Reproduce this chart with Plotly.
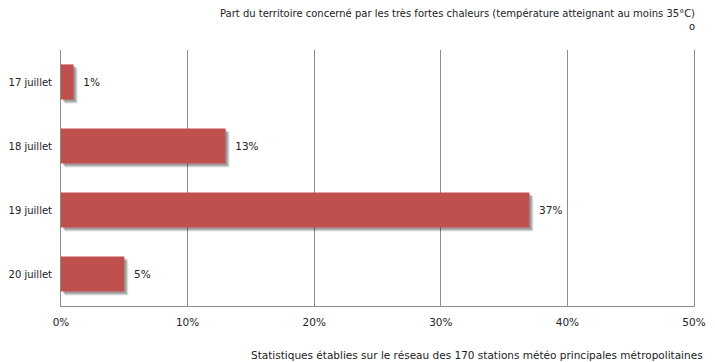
import plotly.graph_objects as go

categories = ["17 juillet", "18 juillet", "19 juillet", "20 juillet"]
values = [1, 13, 37, 5]
labels = ["1%", "13%", "37%", "5%"]
tick_vals = [0, 10, 20, 30, 40, 50]
tick_text = ["0%", "10%", "20%", "30%", "40%", "50%"]
title_text = "Part du territoire concerné par les très fortes chaleurs (température atteignant au moins 35°C)<br>o"
note_text = "Statistiques établies sur le réseau des 170 stations météo principales métropolitaines"

# page body has an 8px margin: size the figure so it fills the 715x362 window
OFF = 8
W, H = 715 - OFF, 362 - OFF
L, R, T, B = 61 - OFF, 21, 50 - OFF, 56
pw = W - L - R
ph = H - T - B
font = dict(family="DejaVu Sans", size=10.5, color="#222")
small_font = dict(family="DejaVu Sans", size=10, color="#222")
bar_w = 0.55
n = len(categories)

fig = go.Figure()
# invisible trace to anchor the base axes (ticks and grid)
fig.add_trace(go.Bar(
    y=categories, x=values, orientation="h", width=bar_w,
    marker=dict(color="rgba(0,0,0,0)", line=dict(width=0)),
    hoverinfo="skip", showlegend=False,
))
# soft shadow layers
for k, (px, alpha) in enumerate([(4, 0.10), (3, 0.16), (2, 0.18)]):
    sx = px * 50 / pw
    sy = px * n / ph
    ax = str(k + 2)
    fig.add_trace(go.Bar(
        y=categories, x=values, orientation="h", width=bar_w,
        marker=dict(color=f"rgba(0,0,0,{alpha})", line=dict(width=0)),
        xaxis="x" + ax, yaxis="y" + ax, hoverinfo="skip", showlegend=False,
    ))
    fig.update_layout({
        "xaxis" + ax: dict(range=[-sx, 50 - sx], overlaying="x", visible=False,
                           anchor="y" + ax, fixedrange=True),
        "yaxis" + ax: dict(range=[n - 0.5 - sy, -0.5 - sy], overlaying="y",
                           visible=False, anchor="x" + ax, fixedrange=True),
    })
fig.add_trace(go.Bar(
    y=categories, x=values, orientation="h", width=bar_w,
    marker=dict(color="#c0504d", line=dict(width=0)),
    text=labels, texttemplate="  %{text}", textposition="outside", cliponaxis=False,
    textfont=font, showlegend=False, xaxis="x5", yaxis="y5",
))

fig.update_layout(
    width=W, height=H,
    margin=dict(l=L, r=R, t=T, b=B, autoexpand=False),
    paper_bgcolor="white", plot_bgcolor="white",
    font=font,
    xaxis=dict(range=[0, 50], tickvals=tick_vals, ticktext=tick_text,
               showgrid=True, gridcolor="#8c8c8c", gridwidth=1,
               showline=True, linecolor="#8c8c8c", linewidth=1,
               zeroline=False, ticks="", ticklabelstandoff=6, tickfont=font,
               fixedrange=True, automargin=False),
    yaxis=dict(range=[n - 0.5, -0.5], showgrid=False,
               showline=True, mirror=True, linecolor="#8c8c8c", linewidth=1,
               ticks="", ticklabelstandoff=6, tickfont=small_font,
               fixedrange=True, automargin=False),
    xaxis5=dict(range=[0, 50], overlaying="x", visible=False, anchor="y5",
                fixedrange=True),
    yaxis5=dict(range=[n - 0.5, -0.5], overlaying="y", visible=False,
                anchor="x5", fixedrange=True),
    annotations=[
        dict(text=title_text, xref="paper", yref="paper",
             x=(697 - OFF - L) / pw, y=1 + (T - 6 + OFF) / ph, xanchor="right",
             yanchor="top", align="right", showarrow=False, font=small_font),
        dict(text=note_text, xref="paper", yref="paper",
             x=(705 - OFF - L) / pw, y=-(347 - 306) / ph, xanchor="right",
             yanchor="top", align="right", showarrow=False, font=font),
    ],
)
fig.write_html("out.html")
